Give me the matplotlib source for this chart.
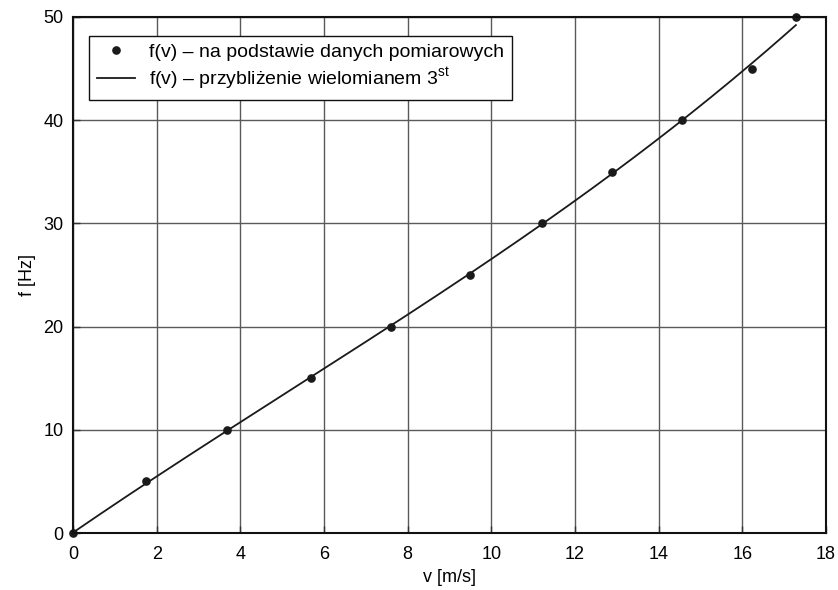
import numpy as np
import matplotlib
matplotlib.use("Agg")
import matplotlib.pyplot as plt

plt.rcParams['font.family'] = ['Liberation Sans', 'DejaVu Sans']
plt.rcParams['mathtext.fontset'] = 'custom'
plt.rcParams['mathtext.rm'] = 'Liberation Sans'

# measured data points
v_meas = [0, 1.75, 3.68, 5.69, 7.6, 9.49, 11.21, 12.88, 14.55, 16.23, 17.28]
f_meas = [0, 5, 10, 15, 20, 25, 30, 35, 40, 45, 50]

# 3rd-degree approximation curve, samples
v_curve = [0, 2, 4, 6, 8, 10, 12, 14, 16, 17.28]
f_curve = [0, 5.52, 10.78, 15.96, 21.1, 26.4, 32.3, 38.3, 44.7, 49.2]
poly_degree = 3

x_ticks = [0, 2, 4, 6, 8, 10, 12, 14, 16, 18]
y_ticks = [0, 10, 20, 30, 40, 50]

coef = np.polyfit(v_curve, f_curve, poly_degree)
v_fit = np.linspace(v_curve[0], v_curve[-1], 300)
f_fit = np.polyval(coef, v_fit)

fig = plt.figure(figsize=(8.38, 5.9), dpi=100)
ax = fig.add_axes([0.0871, 0.0966, 0.8986, 0.8746])

ax.plot(v_meas, f_meas, 'o', color='#1a1a1a', markersize=5.2,
        label='f(v) – na podstawie danych pomiarowych', zorder=4, clip_on=False)
ax.plot(v_fit, f_fit, '-', color='#1a1a1a', linewidth=1.3,
        label=r'f(v) – przybliżenie wielomianem 3$^{\mathrm{st}}$', zorder=3)

ax.set_xlim(0, 18)
ax.set_ylim(0, 50)
ax.set_xticks(x_ticks)
ax.set_yticks(y_ticks)
ax.grid(True, color='#5a5a5a', linewidth=1.0)
ax.set_axisbelow(True)
ax.tick_params(direction='in', length=5, width=1, labelsize=13, color='#333333')
ax.tick_params(axis='x', pad=9)
ax.tick_params(axis='y', pad=7)
for s in ax.spines.values():
    s.set_linewidth(1.5)
    s.set_color('#111111')
    s.set_zorder(5)

ax.set_xlabel('v [m/s]', fontsize=13, labelpad=5)
ax.set_ylabel('f [Hz]', fontsize=13, labelpad=5)

leg = ax.legend(loc='upper left', bbox_to_anchor=(0.021, 0.964), fontsize=14,
                fancybox=False, framealpha=1, edgecolor='#111111',
                borderpad=0.4, handlelength=2.0, handletextpad=0.7,
                labelspacing=0.25, borderaxespad=0)
leg.get_frame().set_linewidth(1.0)

fig.savefig('out.png', dpi=100)
